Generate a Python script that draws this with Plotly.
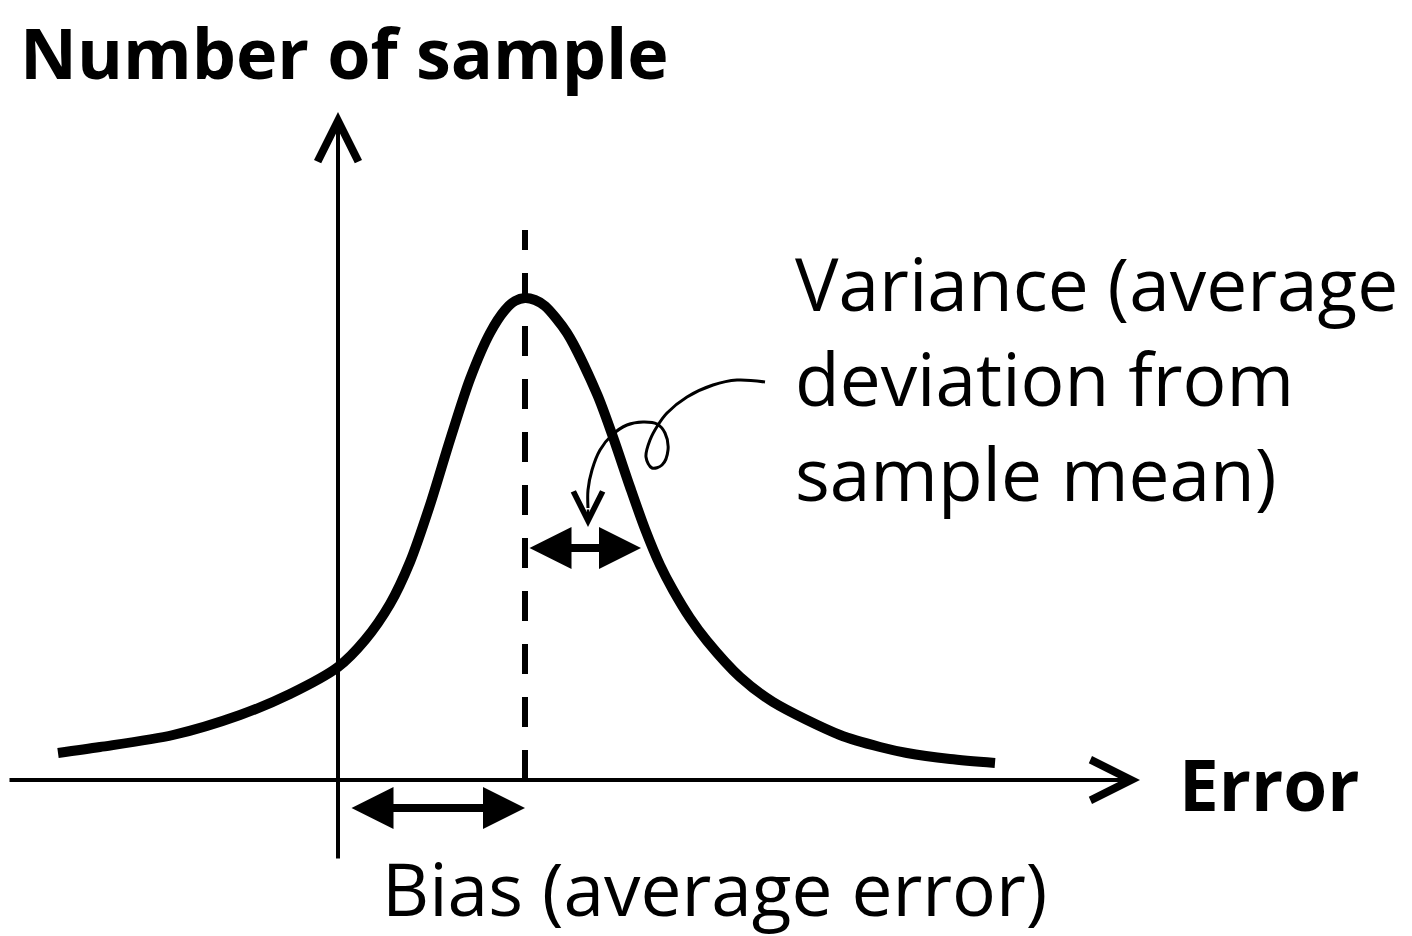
import plotly.graph_objects as go

# Data units (arbitrary): x = error, y = number of sample
curve_x = [-280, -238, -165, -98, -48, 0, 27, 52, 72, 92, 112, 132, 152, 167, 177, 187,
           197, 207, 229, 259, 275, 292, 307, 322, 335, 352, 369, 402, 435, 502, 542, 569, 612, 657]
curve_y = [27, 33, 45, 65, 86, 113, 140, 176, 218, 275, 340, 401, 447, 470, 479, 482,
           480, 474, 447, 386, 343, 293, 251, 215, 190, 162, 139, 103, 78, 45, 33, 27, 21, 17]

bias = 187          # mean error (distance from zero to the mean)
deviation = 116     # average deviation from the mean

# curly pointer line
curl_x = [427, 399, 375, 349, 329, 320, 312, 308, 314, 324, 330, 327, 319, 305, 289, 274, 262, 254, 250, 250]
curl_y = [398, 400, 395, 383, 367, 355, 340, 323, 312, 315, 330, 347, 356, 358, 355, 345, 330, 310, 290, 272]

labels = {
    "y": "Number of sample",
    "x": "Error",
    "var": ["Variance (average", "deviation from", "sample mean)"],
    "bias": "Bias (average error)",
}

X0, X1 = -330, 1074
Y0, Y1 = -156, 772

fig = go.Figure()

fig.add_trace(go.Scatter(x=curve_x, y=curve_y, mode="lines",
                         line=dict(color="black", width=10, shape="spline", smoothing=0.8),
                         hoverinfo="skip", showlegend=False))
fig.add_trace(go.Scatter(x=curl_x, y=curl_y, mode="lines",
                         line=dict(color="black", width=3, shape="spline", smoothing=1.0),
                         hoverinfo="skip", showlegend=False))

# dashed mean line
fig.add_shape(type="line", x0=bias, x1=bias, y0=0, y1=550,
              line=dict(color="black", width=6, dash="30px,23px"))

ann = []
# axes with open arrowheads
ann.append(dict(x=0, y=668, ax=0, ay=-80, xref="x", yref="y", axref="x", ayref="y",
                showarrow=True, arrowhead=5, arrowsize=2.0, arrowwidth=4, arrowcolor="black", text=""))
ann.append(dict(x=802, y=0, ax=-330, ay=0, xref="x", yref="y", axref="x", ayref="y",
                showarrow=True, arrowhead=5, arrowsize=2.0, arrowwidth=4, arrowcolor="black", text=""))
# bias double arrow
ann.append(dict(x=bias, y=-28, ax=12, ay=-28, xref="x", yref="y", axref="x", ayref="y",
                showarrow=True, arrowhead=2, startarrowhead=2, arrowside="end+start",
                arrowsize=1.05, startarrowsize=1.05, arrowwidth=8, arrowcolor="black", text=""))
# variance double arrow
ann.append(dict(x=bias + deviation, y=232, ax=bias + 3, ay=232, xref="x", yref="y",
                axref="x", ayref="y",
                showarrow=True, arrowhead=2, startarrowhead=2, arrowside="end+start",
                arrowsize=1.05, startarrowsize=1.05, arrowwidth=8, arrowcolor="black", text=""))
# curl pointer head
ann.append(dict(x=curl_x[-1], y=253, ax=curl_x[-1], ay=curl_y[-1], xref="x", yref="y",
                axref="x", ayref="y",
                showarrow=True, arrowhead=5, arrowsize=2.3, arrowwidth=2.5, arrowcolor="black", text=""))

font_f = "Open Sans"
ann.append(dict(x=-320, y=770, yshift=8, xref="x", yref="y", text="<b>" + labels["y"] + "</b>",
                showarrow=False, xanchor="left", yanchor="top",
                font=dict(family=font_f, size=70, color="black")))
ann.append(dict(x=839, y=-3, xref="x", yref="y", text="<b>" + labels["x"] + "</b>",
                showarrow=False, xanchor="left", yanchor="middle",
                font=dict(family=font_f, size=71, color="black")))
ann.append(dict(x=455, y=403, xref="x", yref="y", text="<br>".join(labels["var"]),
                showarrow=False, xanchor="left", yanchor="middle", align="left",
                font=dict(family=font_f, size=73, color="black")))
ann.append(dict(x=42, y=-107, xref="x", yref="y", text=labels["bias"],
                showarrow=False, xanchor="left", yanchor="middle",
                font=dict(family=font_f, size=73, color="black")))

fig.update_layout(
    width=1404, height=928,
    margin=dict(l=0, r=0, t=0, b=0),
    paper_bgcolor="white", plot_bgcolor="white",
    xaxis=dict(range=[X0, X1], visible=False, fixedrange=True),
    yaxis=dict(range=[Y0, Y1], visible=False, fixedrange=True),
    annotations=ann,
    showlegend=False,
)

fig.write_html("out.html")
